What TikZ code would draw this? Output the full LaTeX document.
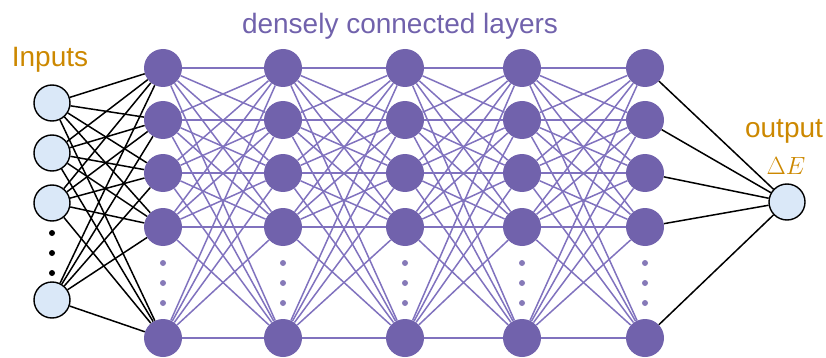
\documentclass[tikz,border=0pt]{standalone}
\usepackage{fontspec}
\setmainfont{Liberation Sans}
\definecolor{nodepurple}{RGB}{113,98,172}
\definecolor{linepurple}{RGB}{128,114,190}
\definecolor{inblue}{RGB}{218,232,248}
\definecolor{labelorange}{RGB}{204,136,0}
\begin{document}
\begin{tikzpicture}[x=1pt,y=-1pt,
  hid/.style={circle,fill=nodepurple,minimum size=38pt,inner sep=0pt},
  inp/.style={circle,draw=black,line width=1.4pt,fill=inblue,minimum size=36pt,inner sep=0pt},
  hdot/.style={circle,fill=nodepurple!85,minimum size=6pt,inner sep=0pt},
  idot/.style={circle,fill=black,minimum size=6pt,inner sep=0pt},
  plink/.style={draw=linepurple,line width=1.5pt},
  blink/.style={draw=black,line width=1.5pt},
  lab/.style={text=labelorange,font=\fontsize{28}{30}\selectfont}]
\useasboundingbox (0,0) rectangle (826,358);
% inputs
\foreach \i/\y in {1/103,2/153,3/203,4/300}
  \node[inp] (i\i) at (52,\y) {};
\foreach \k/\y in {1/233,2/253,3/273}
  \node[idot] (id\k) at (52,\y) {};
% hidden layers
\foreach \l/\x in {1/163,2/283,3/405,4/522,5/645}{
  \foreach \j/\y in {1/68,2/120,3/173,4/227,5/338}
    \node[hid] (h\l-\j) at (\x,\y) {};
  \foreach \k/\y in {1/263,2/283,3/303}
    \node[hdot] (hd\l-\k) at (\x,\y) {};
}
% output
\node[inp] (o) at (787,202) {};
% connections
\foreach \i in {1,...,4}
  \foreach \j in {1,...,5}
    \path[blink] (i\i) -- (h1-\j);
\foreach \l/\m in {1/2,2/3,3/4,4/5}
  \foreach \i in {1,...,5}
    \foreach \j in {1,...,5}
      \path[plink] (h\l-\i) -- (h\m-\j);
\foreach \j in {1,...,5}
  \path[blink] (h5-\j) -- (o);
% labels
\node[lab] (tin) at (50,60) {Inputs};
\node[lab] (tout) at (784,131) {output};
\node[lab,font=\fontsize{30}{32}\selectfont] (tde) at (786,166) {$\Delta E$};
\node[text=nodepurple,font=\fontsize{28}{30}\selectfont] (title) at (400,26) {densely connected layers};
\end{tikzpicture}
\end{document}
